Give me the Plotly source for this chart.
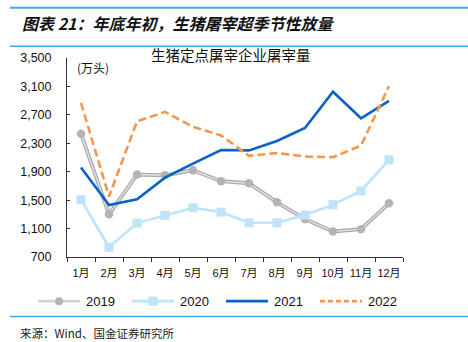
import plotly.graph_objects as go

# Monthly slaughter volume at designated slaughterhouses (万头)
months = ["1月", "2月", "3月", "4月", "5月", "6月", "7月", "8月", "9月", "10月", "11月", "12月"]
y2019 = [2435, 1300, 1860, 1850, 1920, 1766, 1738, 1469, 1233, 1059, 1092, 1455]
y2020 = [1506, 837, 1177, 1285, 1393, 1332, 1181, 1181, 1290, 1435, 1629, 2068]
y2021 = [1959, 1431, 1512, 1817, 2015, 2205, 2200, 2332, 2516, 3025, 2652, 2898]
y2022 = [2870, 1549, 2609, 2742, 2530, 2411, 2124, 2162, 2114, 2105, 2266, 3104]
y_ticks = [700, 1100, 1500, 1900, 2300, 2700, 3100, 3500]
series_names = ["2019", "2020", "2021", "2022"]

W, H = 468, 342
L, R, T, B = 67, 403, 58.3, 256.7

C19_EDGE, C19_CORE, C19_MARK = "#a8a8a8", "#e2e2e2", "#b4b4b4"
C20 = "#bfe3f8"
C21 = "#0a62c9"
C22 = "#f5964a"
DASH22 = "8px,4px"


def px(x):
    return (x - L) / (R - L)


def py(y):
    return (B - y) / (B - T)


NUM = "Liberation Sans, Arial, Noto Sans CJK SC"
CJK = "Noto Sans CJK SC, sans-serif"

fig = go.Figure()

# 2019: grey outlined line with a lighter core, round markers
fig.add_trace(go.Scatter(x=months, y=y2019, mode="lines", showlegend=False,
                         line=dict(color=C19_EDGE, width=3.8), hoverinfo="skip"))
fig.add_trace(go.Scatter(x=months, y=y2019, mode="lines+markers", name=series_names[0],
                         line=dict(color=C19_CORE, width=1.4),
                         marker=dict(symbol="circle", size=8.5, color=C19_MARK)))
fig.add_trace(go.Scatter(x=months, y=y2020, mode="lines+markers", name=series_names[1],
                         line=dict(color=C20, width=2.6),
                         marker=dict(symbol="square", size=9, color=C20)))
fig.add_trace(go.Scatter(x=months, y=y2021, mode="lines", name=series_names[2],
                         line=dict(color=C21, width=2.6)))
fig.add_trace(go.Scatter(x=months, y=y2022, mode="lines", name=series_names[3],
                         line=dict(color=C22, width=2.6, dash=DASH22)))

fig.update_xaxes(
    type="category", range=[-0.5, 11.5], showline=True, linecolor="#333333", linewidth=1,
    ticks="outside", ticklen=4, tickcolor="#333333", tickson="boundaries", tickangle=0,
    ticklabelstandoff=6,
    showgrid=False, tickfont=dict(family=NUM, size=11, color="#111111"), fixedrange=True,
)
fig.update_yaxes(
    range=[700, 3500], tickvals=y_ticks, tickformat=",", showline=True,
    linecolor="#333333", linewidth=1, ticks="inside", ticklen=3, tickcolor="#333333",
    showgrid=False, zeroline=False,
    tickfont=dict(family=NUM, size=12.5, color="#111111"), ticklabelstandoff=12,
)

ann = []
# header and footer
ann.append(dict(x=px(20), y=py(23), text="<b><i>图表 21：年底年初，生猪屠宰超季节性放量</i></b>",
                xanchor="left", yanchor="middle", font=dict(family=CJK, size=16, color="#111111")))
ann.append(dict(x=px(18), y=py(332), text="来源：Wind、国金证券研究所", xanchor="left",
                yanchor="middle", font=dict(family=CJK, size=11.5, color="#222222")))
# chart title and unit
ann.append(dict(x=px(231), y=py(55), text="生猪定点屠宰企业屠宰量", xanchor="center",
                yanchor="middle", font=dict(family=CJK, size=14.5, color="#111111")))
ann.append(dict(x=px(75), y=py(68), text="(万头)", xanchor="left", yanchor="middle",
                font=dict(family=CJK, size=12, color="#111111")))

line_col = "#3aaee2"
shapes = [
    dict(type="line", xref="paper", yref="paper", x0=px(10), x1=px(470), y0=py(8.3), y1=py(8.3),
         line=dict(color=line_col, width=2)),
    dict(type="line", xref="paper", yref="paper", x0=px(10), x1=px(470), y0=py(46.7), y1=py(46.7),
         line=dict(color=line_col, width=1.5)),
    dict(type="line", xref="paper", yref="paper", x0=px(10), x1=px(470), y0=py(316), y1=py(316),
         line=dict(color=line_col, width=1.5)),
]

# legend row below the axis
leg_y = 300.7
leg_x0 = [38, 132, 226, 320]
leg_len = 42
leg_lines = [
    dict(color="#d2d2d2", width=2.6),
    dict(color=C20, width=2.6),
    dict(color=C21, width=2.6),
    dict(color=C22, width=2.6, dash="5px,3px"),
]
for i, name in enumerate(series_names):
    x0 = leg_x0[i]
    shapes.append(dict(type="line", xref="paper", yref="paper", x0=px(x0), x1=px(x0 + leg_len),
                       y0=py(leg_y), y1=py(leg_y), line=leg_lines[i]))
    ann.append(dict(x=px(x0 + leg_len + 4), y=py(leg_y), text=name, xanchor="left",
                    yanchor="middle", font=dict(family=NUM, size=13, color="#111111")))
mid19 = px(leg_x0[0] + leg_len / 2)
shapes.append(dict(type="circle", xref="paper", yref="paper", xsizemode="pixel",
                   ysizemode="pixel", xanchor=mid19, yanchor=py(leg_y), x0=-4, x1=4, y0=-4, y1=4,
                   fillcolor=C19_MARK, line=dict(width=0)))
mid20 = px(leg_x0[1] + leg_len / 2)
shapes.append(dict(type="rect", xref="paper", yref="paper", xsizemode="pixel",
                   ysizemode="pixel", xanchor=mid20, yanchor=py(leg_y), x0=-4.5, x1=4.5,
                   y0=-4.5, y1=4.5, fillcolor=C20, line=dict(width=0)))

for a in ann:
    a.update(xref="paper", yref="paper", showarrow=False)

fig.update_layout(
    width=W, height=H,
    margin=dict(l=L, r=W - R, t=T, b=H - B, pad=0),
    paper_bgcolor="white", plot_bgcolor="white",
    annotations=ann, shapes=shapes, showlegend=False,
)

fig.write_html("out.html")
